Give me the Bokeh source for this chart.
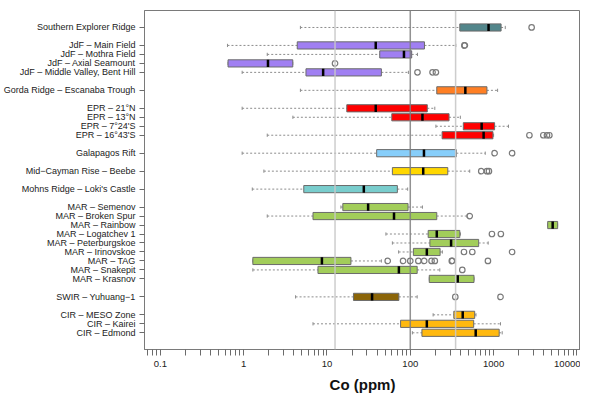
from bokeh.plotting import figure
from bokeh.models import Range1d, FixedTicker, Span, ColumnDataSource, Title
from bokeh.embed import file_html
from bokeh.resources import INLINE

sites = ["Southern Explorer Ridge",
         "JdF – Main Field", "JdF – Mothra Field", "JdF – Axial Seamount", "JdF – Middle Valley, Bent Hill",
         "Gorda Ridge – Escanaba Trough",
         "EPR – 21°N", "EPR – 13°N", "EPR – 7°24'S", "EPR – 16°43'S",
         "Galapagos Rift",
         "Mid−Cayman Rise – Beebe",
         "Mohns Ridge – Loki's Castle",
         "MAR – Semenov", "MAR – Broken Spur", "MAR – Rainbow", "MAR – Logatchev 1",
         "MAR – Peterburgskoe", "MAR – Irinovskoe", "MAR – TAG", "MAR – Snakepit", "MAR – Krasnov",
         "SWIR – Yuhuang−1",
         "CIR – MESO Zone", "CIR – Kairei", "CIR – Edmond"]
pos = [0, 2, 3, 4, 5, 7, 9, 10, 11, 12, 14, 16, 18,
       20, 21, 22, 23, 24, 25, 26, 27, 28, 30, 32, 33, 34]
wlo = [4.8, 0.64, 1.92, 0.65, 0.96, 4.8, 0.96, 3.9, 203, 1.92, 0.96, 1.75, 1.27,
       14.7, 1.92, 4460, 51, 61, 72.5, 1.29, 1.29, 169, 4.2, 188, 6.8, 106]
q1 = [393, 4.4, 43, 0.65, 5.6, 208, 17.3, 60, 433, 241, 39.5, 61, 5.27,
      15.5, 6.8, 4460, 164, 172, 109, 1.29, 7.8, 169, 20.8, 333, 76.5, 138]
med = [870, 38.5, 84, 1.96, 9.0, 458, 38.5, 140, 719, 759, 146, 143, 27.7,
       31.2, 63.8, 5117, 208, 309, 158, 8.7, 73, 371, 34.8, 426, 158, 610]
q3 = [1230, 148, 104, 3.89, 45, 832, 160, 292, 1028, 982, 357, 282, 70,
      94, 208, 5870, 393, 662, 228, 19.4, 121, 582, 73, 593, 577, 1167]
whi = [1380, 352, 122, 3.89, 95, 1117, 197, 399, 1510, 1000, 794, 517, 93,
       140, 480, 5870, 400, 861, 243, 45, 226, 582, 121, 615, 1210, 1268]
out_site = [0, 1, 1, 3, 4, 4, 4, 9, 9, 9, 9, 10, 10, 11, 11, 11, 14, 16, 16,
            18, 18, 18, 19, 19, 19, 19, 19, 19, 19, 19, 19, 19, 20, 22, 22]
out_val = [2860, 446, 452, 12.5, 122, 185, 203, 2690, 3950, 4370, 4670, 1028, 1667,
           711, 832, 879, 517, 955, 1222, 441, 555, 1667,
           53.6, 82, 100, 125, 147, 180, 197, 315, 320, 855, 421, 347, 1210]
colors = ["#53868B", "#A07FF2", "#A07FF2", "#A07FF2", "#A07FF2", "#FF7F24",
          "#FF0000", "#FF0000", "#FF0000", "#FF0000", "#87CEFA", "#FFD700", "#79CDCD",
          "#A2CD5A", "#A2CD5A", "#A2CD5A", "#A2CD5A", "#A2CD5A", "#A2CD5A", "#A2CD5A",
          "#A2CD5A", "#A2CD5A", "#8B6508", "#FFB90F", "#FFB90F", "#FFB90F"]
ref_lines = [12.5, 100, 350]
x_ticks = [0.1, 1, 10, 100, 1000, 10000]
x_tick_labels = ["0.1", "1", "10", "100", "1000", "10000"]
x_title = "Co (ppm)"

p = figure(width=580, height=398, x_axis_type="log",
           x_range=Range1d(0.0646, 11040), y_range=Range1d(35.86, -1.89),
           output_backend="svg", toolbar_location=None,
           min_border_left=142, min_border_right=0, min_border_top=10, min_border_bottom=49)
p.xgrid.visible = False
p.ygrid.visible = False
p.outline_line_color = "#7a7a7a"
p.outline_line_width = 1
p.background_fill_color = "white"
p.border_fill_color = "white"

src = ColumnDataSource(dict(y=pos, wlo=wlo, q1=q1, med=med, q3=q3, whi=whi, c=colors,
                            y0=[k - 0.4 for k in pos], y1=[k + 0.4 for k in pos],
                            s0=[k - 0.18 for k in pos], s1=[k + 0.18 for k in pos]))

wcol = "#8c8c8c"
p.segment(x0="wlo", x1="q1", y0="y", y1="y", source=src, line_color=wcol,
          line_dash="2 2", line_width=1)
p.segment(x0="q3", x1="whi", y0="y", y1="y", source=src, line_color=wcol,
          line_dash="2 2", line_width=1)
p.segment(x0="wlo", x1="wlo", y0="s0", y1="s1", source=src, line_color=wcol, line_width=1)
p.segment(x0="whi", x1="whi", y0="s0", y1="s1", source=src, line_color=wcol, line_width=1)
p.hbar(y="y", left="q1", right="q3", height=0.8, source=src, fill_color="c",
       line_color="#6b6b6b", line_width=1)
p.segment(x0="med", x1="med", y0="y0", y1="y1", source=src, line_color="black", line_width=2.5)

p.scatter(x=out_val, y=[pos[i] for i in out_site], marker="circle", size=5.5,
          fill_color=None, line_color="#7a7a7a", line_width=1.2)

for v in ref_lines:
    if v == 100:
        p.add_layout(Span(location=v, dimension="height", line_color="#7f7f7f",
                          line_width=1.5, line_alpha=0.85))
    else:
        p.add_layout(Span(location=v, dimension="height", line_color="#c8c8c8",
                          line_width=1.5, line_alpha=0.9))

# x axis
minor = [m * d for d in [0.01, 0.1, 1, 10, 100, 1000] for m in range(2, 10)]
p.xaxis.ticker = FixedTicker(ticks=x_ticks, minor_ticks=minor)
p.xaxis.major_label_overrides = {t: l for t, l in zip(x_ticks, x_tick_labels)}
p.xaxis.major_tick_out = 6
p.xaxis.major_tick_in = 0
p.xaxis.minor_tick_out = 6
p.xaxis.minor_tick_in = 0
p.xaxis.major_tick_line_color = "#6b6b6b"
p.xaxis.minor_tick_line_color = "#6b6b6b"
p.xaxis.axis_line_color = "#7a7a7a"
p.xaxis.major_label_text_font = "Liberation Sans"
p.xaxis.major_label_text_font_size = "9.5px"
p.xaxis.major_label_text_color = "#222222"
p.xaxis.major_label_standoff = 5

p.add_layout(Title(text=x_title, align="center", offset=18, standoff=9,
                   text_font="Liberation Sans", text_font_size="15px",
                   text_font_style="bold", text_color="#111111"), "below")

# y axis
p.yaxis.ticker = FixedTicker(ticks=pos)
p.yaxis.major_label_overrides = {k: s for k, s in zip(pos, sites)}
p.yaxis.major_tick_out = 5
p.yaxis.major_tick_in = 0
p.yaxis.minor_tick_line_color = None
p.yaxis.major_tick_line_color = "#6b6b6b"
p.yaxis.axis_line_color = "#7a7a7a"
p.yaxis.major_label_text_font = "Liberation Sans"
p.yaxis.major_label_text_font_size = "9px"
p.yaxis.major_label_text_color = "#222222"
p.yaxis.major_label_standoff = 4

open("out.html", "w").write(file_html(p, INLINE))
